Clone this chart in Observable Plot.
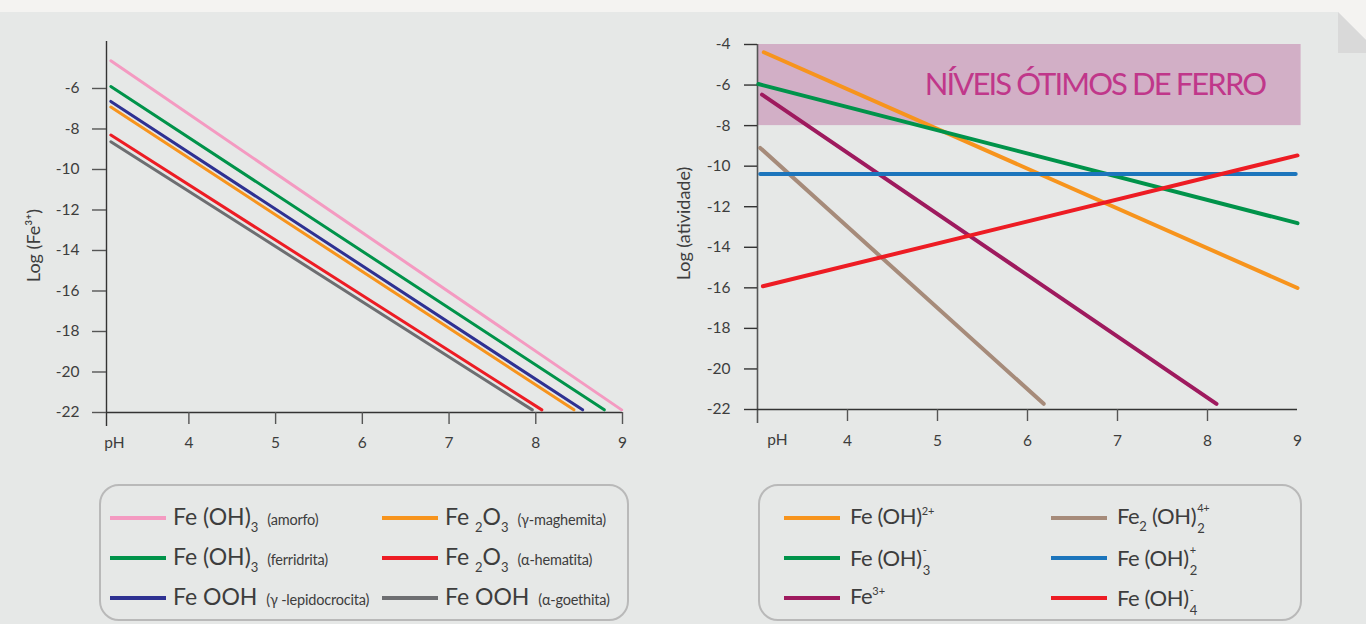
<!DOCTYPE html>
<html><head><meta charset="utf-8">
<script src="https://cdn.jsdelivr.net/npm/d3@7"></script>
<script src="https://cdn.jsdelivr.net/npm/@observablehq/plot@0.6"></script>
<style>
html,body{margin:0;padding:0;}
body{width:1366px;height:624px;overflow:hidden;background:#f4f3f1;position:relative;font-family:Lato,"Open Sans",sans-serif;color:#3d3d3d;}
#panel{position:absolute;left:0;top:12px;width:1366px;height:612px;background:#e6e8e7;clip-path:polygon(0 0,1338px 0,1366px 28px,1366px 100%,0 100%);}
#fold{position:absolute;left:1338px;top:12px;width:28px;height:41px;background:#d9d9d9;clip-path:polygon(0 0,100% 28px,100% 100%,0 100%);}
#left,#right{position:absolute;top:0;}
#left{left:0px;} #right{left:660px;}
.legend{position:absolute;top:484px;height:137px;border:2px solid #b9b9b9;border-radius:20px;box-sizing:border-box;}
.entry{position:absolute;display:flex;align-items:center;height:30px;white-space:nowrap;}
.sw{flex:none;width:56px;height:4px;}
.lab{font-size:22px;line-height:30px;letter-spacing:-0.4px;color:#3d3d3d;}
#legL .lab, .lab.big{font-size:23px;letter-spacing:0;}
.sb{font-size:13px;position:relative;top:7px;letter-spacing:0;}
.sp{font-size:11px;position:relative;top:-9px;letter-spacing:0;}
.note{font-size:14.5px;letter-spacing:-0.2px;margin-left:3px;}
.st{position:relative;display:inline-block;width:9px;height:22px;}
.st .a{position:absolute;left:1px;top:0px;font-size:11px;line-height:11px;}
.st .b{position:absolute;left:1px;bottom:-11px;font-size:13px;line-height:13px;}
</style>
</head><body>
<div id="panel"></div>
<div id="fold"></div>
<div id="left"></div>
<div id="right"></div>
<div id="legL" class="legend" style="left:99px;width:530px;"></div>
<div id="legR" class="legend" style="left:758px;width:544px;"></div>
<script>
// ---------- LEFT CHART DATA ----------
const leftSeries = ["Fe(OH)3 amorfo","Fe(OH)3 ferridrita","FeOOH γ-lepidocrocita","Fe2O3 γ-maghemita","Fe2O3 α-hematita","FeOOH α-goethita"];
const leftColors = ["#f49ac1","#00934a","#2e3192","#f7941d","#ed1c24","#6d6e71"];
const leftStartPH = [3.10,3.10,3.10,3.10,3.10,3.10];
const leftStartLog = [-4.63,-5.90,-6.64,-6.92,-8.30,-8.63];
const leftEndPH = [8.99,8.79,8.54,8.44,8.07,7.96];
const leftEndLog = [-21.87,-21.87,-21.87,-21.87,-21.87,-21.87];
const leftLabels = [
  'Fe (OH)<span class="sb">3</span> <span class="note">(amorfo)</span>',
  'Fe (OH)<span class="sb">3</span> <span class="note">(ferridrita)</span>',
  'Fe OOH <span class="note">(γ -lepidocrocita)</span>',
  'Fe <span class="sb">2</span>O<span class="sb">3</span> <span class="note">(γ-maghemita)</span>',
  'Fe <span class="sb">2</span>O<span class="sb">3</span> <span class="note">(α-hematita)</span>',
  'Fe OOH <span class="note">(α-goethita)</span>'
];
const leftXDomain = [3.05, 9];
const leftYDomain = [-22, -3.68];
const leftXTicks = [4,5,6,7,8,9];
const leftYTicks = [-6,-8,-10,-12,-14,-16,-18,-20,-22];
const leftYLabel = "Log (Fe³⁺)";
const xStartLabel = "pH";

// ---------- RIGHT CHART DATA ----------
const rightSeries = ["Fe(OH)2+","Fe(OH)3-","Fe3+","Fe2(OH)2 4+","Fe(OH)2 +","Fe(OH)4-"];
const rightColors = ["#f7941d","#00934a","#9e1a5e","#a68b7a","#1c75bc","#ed1c24"];
const rightStartPH = [3.07,3.01,3.05,3.03,3.03,3.06];
const rightStartLog = [-4.38,-5.95,-6.47,-9.10,-10.39,-15.92];
const rightEndPH = [9.00,9.00,8.10,6.18,8.98,9.00];
const rightEndLog = [-16.01,-12.81,-21.72,-21.72,-10.39,-9.47];
const rightLabels = [
  'Fe (OH)<span class="sp">2+</span>',
  'Fe (OH)<span class="st"><span class="a">-</span><span class="b">3</span></span>',
  'Fe<span class="sp">3+</span>',
  'Fe<span class="sb">2</span> (OH)<span class="st"><span class="a">4+</span><span class="b">2</span></span>',
  'Fe (OH)<span class="st"><span class="a">+</span><span class="b">2</span></span>',
  'Fe (OH)<span class="st"><span class="a">-</span><span class="b">4</span></span>'
];
const rightXDomain = [3, 9];
const rightYDomain = [-22, -4];
const rightXTicks = [4,5,6,7,8,9];
const rightXTickMarks = [4,5,6,7,8];
const rightYTicks = [-4,-6,-8,-10,-12,-14,-16,-18,-20,-22];
const rightYLabel = "Log (atividade)";
const optimalBand = [{pH1: 3, pH2: 9.04, log1: -8, log2: -4}];
const bandLabel = "NÍVEIS ÓTIMOS DE FERRO";

// ---------- build rows ----------
function rows(series, sp, sl, ep, el) {
  const r = [];
  series.forEach((s, i) => {
    r.push({series: s, pH: sp[i], log: sl[i]});
    r.push({series: s, pH: ep[i], log: el[i]});
  });
  return r;
}
const leftRows = rows(leftSeries, leftStartPH, leftStartLog, leftEndPH, leftEndLog);
const rightRows = rows(rightSeries, rightStartPH, rightStartLog, rightEndPH, rightEndLog);
const fmt = d => String(d);

const baseStyle = {background: "transparent", fontFamily: "Lato, 'Open Sans', sans-serif", fontSize: "15.5px", color: "#3d3d3d", overflow: "visible"};

const left = Plot.plot({
  width: 660, height: 470,
  marginLeft: 106, marginRight: 38, marginTop: 41, marginBottom: 58,
  x: {domain: leftXDomain},
  y: {domain: leftYDomain},
  color: {domain: leftSeries, range: leftColors},
  style: baseStyle,
  marks: [
    Plot.ruleX([leftXDomain[0]], {y1: leftYDomain[1], y2: leftYDomain[0], insetBottom: -14, stroke: "#333", strokeWidth: 1.4}),
    Plot.ruleY([leftYDomain[0]], {x1: leftXDomain[0], x2: leftXDomain[1], stroke: "#333", strokeWidth: 1.4}),
    Plot.axisY({ticks: leftYTicks, tickFormat: fmt, tickSize: 14, tickPadding: 13, stroke: "#555", strokeWidth: 1.4, label: null}),
    Plot.axisX({ticks: leftXTicks, tickFormat: fmt, tickSize: 12, tickPadding: 12, stroke: "#555", strokeWidth: 1.4, label: null}),
    Plot.text([xStartLabel], {text: d => d, frameAnchor: "bottom-left", textAnchor: "middle", dx: 8, dy: 24, lineAnchor: "top", fill: "#3d3d3d"}),
    Plot.text([leftYLabel], {text: d => d, frameAnchor: "left", textAnchor: "middle", dx: -72, dy: 18.5, rotate: -90, fontSize: 18, fill: "#3d3d3d"}),
    Plot.line(leftRows, {x: "pH", y: "log", z: "series", stroke: "series", strokeWidth: 3, strokeLinecap: "round"})
  ]
});
document.getElementById("left").appendChild(left);

const right = Plot.plot({
  width: 706, height: 470,
  marginLeft: 97, marginRight: 69, marginTop: 44, marginBottom: 61,
  x: {domain: rightXDomain},
  y: {domain: rightYDomain},
  color: {domain: rightSeries, range: rightColors},
  style: baseStyle,
  marks: [
    Plot.rect(optimalBand, {x1: "pH1", x2: "pH2", y1: "log1", y2: "log2", fill: "#d2afc6"}),
    Plot.text(optimalBand, {x: "pH2", y: d => (d.log1 + d.log2) / 2, text: () => bandLabel, textAnchor: "end", dx: -36, fontSize: 31, fill: "#c0378a"}),
    Plot.ruleX([rightXDomain[0]], {y1: rightYDomain[1], y2: rightYDomain[0], insetBottom: -14, stroke: "#555", strokeWidth: 1.6}),
    Plot.ruleY([rightYDomain[0]], {x1: rightXDomain[0], x2: rightXDomain[1], stroke: "#333", strokeWidth: 1.4}),
    Plot.axisY({ticks: rightYTicks, tickFormat: fmt, tickSize: 13, tickPadding: 14, stroke: "#333", strokeWidth: 1.4, label: null}),
    Plot.axisX({ticks: rightXTickMarks, tickSize: 12, tickFormat: () => "", stroke: "#555", strokeWidth: 1.4, label: null}),
    Plot.axisX({ticks: rightXTicks, tickFormat: fmt, tickSize: 0, tickPadding: 25, label: null}),
    Plot.text([xStartLabel], {text: d => d, frameAnchor: "bottom-left", textAnchor: "middle", dx: 20, dy: 24, lineAnchor: "top", fill: "#3d3d3d"}),
    Plot.text([rightYLabel], {text: d => d, frameAnchor: "left", textAnchor: "middle", dx: -73, dy: -3.5, rotate: -90, fontSize: 18, fill: "#3d3d3d"}),
    Plot.line(rightRows, {x: "pH", y: "log", z: "series", stroke: "series", strokeWidth: 4, strokeLinecap: "round"})
  ]
});
document.getElementById("right").appendChild(right);
d3.select(right).selectAll("text").filter(function() { return this.textContent === bandLabel; })
  .attr("letter-spacing", "-1.9px");

// ---------- legends ----------
const rowY = [517.7, 557.7, 597.5];
function legend(labels, colors, cols, cls) {
  labels.forEach((html, i) => {
    const col = Math.floor(i / 3), row = i % 3;
    const c = cols[col];
    const e = document.createElement("div");
    e.className = "entry";
    e.style.left = c.x + "px";
    e.style.top = (rowY[row] - 15) + "px";
    e.innerHTML = `<span class="sw" style="background:${colors[i]};margin-right:${c.gap}px"></span><span class="lab ${cls}">${html}</span>`;
    document.body.appendChild(e);
  });
}
legend(leftLabels, leftColors, [{x: 110, gap: 7}, {x: 382, gap: 7}], "big");
legend(rightLabels, rightColors, [{x: 784, gap: 10}, {x: 1051, gap: 10}], "");
</script>
</body></html>
